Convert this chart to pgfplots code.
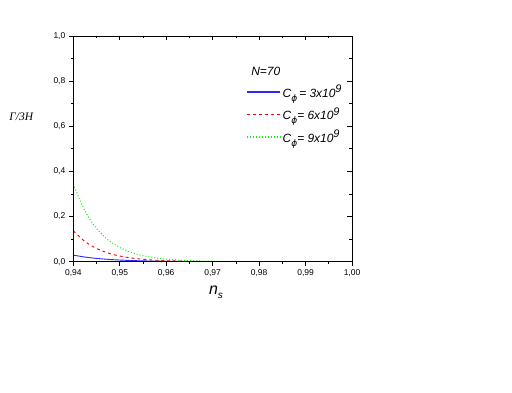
\documentclass[border=0pt]{standalone}
\usepackage{pgfplots}
\pgfplotsset{compat=1.18}
\usepackage{fontspec}
\setmainfont{Liberation Sans}
\newfontfamily\serifit{Liberation Serif}
\newfontfamily\dejavu{DejaVu Sans}

\newcommand{\expnine}{\raisebox{0.75ex}{\fontsize{11}{12}\selectfont 9}}
\newcommand{\Cphi}{C\raisebox{-0.6ex}{\dejavu\fontsize{9}{10}\selectfont ϕ}}

\begin{document}
\begin{tikzpicture}
\useasboundingbox (-73.3bp,-131.3bp) rectangle (438.7bp,261.7bp);
\pgfplotsset{
    frame/.style={
        scale only axis,
        width=278.7bp,
        height=225.7bp,
        xmin=0.94, xmax=1.00,
        ymin=0, ymax=1.0,
        xtick={0.94,0.95,...,1.00},
        ytick={0,0.2,...,1.0},
        minor x tick num=1,
        minor y tick num=1,
        major tick length=4.5bp,
        minor tick length=2.5bp,
        axis line style={line width=0.8bp},
        every tick/.style={black, line width=0.7bp},
    },
}
\begin{axis}[
    frame,
    tick align=outside,
    xtick pos=bottom,
    ytick pos=left,
    /pgf/number format/assume math mode=true,
    /pgf/number format/use comma,
    x tick label style={font=\fontsize{8.5}{10}\selectfont,
        /pgf/number format/.cd, fixed, fixed zerofill, precision=2},
    y tick label style={font=\fontsize{8.5}{10}\selectfont,
        /pgf/number format/.cd, fixed, fixed zerofill, precision=1},
    xlabel={\fontsize{16}{18}\selectfont\itshape n\raisebox{-0.45ex}{\fontsize{10}{12}\selectfont s}},
    xlabel style={at={(axis description cs:0.512,-0.134)}, anchor=center},
    ylabel={\serifit\itshape\fontsize{11.5}{13}\selectfont Γ/3H},
    ylabel style={at={(axis description cs:-0.187,0.641)}, anchor=center, rotate=-90},
    legend style={draw=none, fill=none, at={(axis description cs:0.619,0.786)},
        anchor=north west, font=\itshape\fontsize{12}{13}\selectfont,
        row sep=8bp, inner sep=0pt,
        nodes={inner sep=0.4pt}},
    legend cell align=left,
    legend image code/.code={\draw[#1, line width=1.6bp] (0bp,0bp) -- (33bp,0bp);
        \path (35bp,0bp);},
]
\addplot[color={rgb,255:red,40;green,40;blue,255}, line width=0.9bp, smooth] coordinates {
    (0.9400,0.0290) (0.9425,0.0206) (0.9450,0.0146) (0.9475,0.0104)
    (0.9500,0.0074) (0.9525,0.0052) (0.9550,0.0037) (0.9575,0.0026)
    (0.9600,0.0019) (0.9625,0.0013) (0.9650,0.0009) (0.9700,0.0004)
    (0.9800,0.0001) (0.9900,0.0000) (1.0000,0.0000)
};
\addlegendentry{\Cphi\,= 3x10\expnine}
\addplot[red, line width=0.9bp, dashed, smooth] coordinates {
    (0.9400,0.1370) (0.9425,0.0896) (0.9450,0.0586) (0.9475,0.0383)
    (0.9500,0.0251) (0.9525,0.0164) (0.9550,0.0107) (0.9575,0.0070)
    (0.9600,0.0046) (0.9625,0.0030) (0.9650,0.0020) (0.9700,0.0008)
    (0.9800,0.0001) (0.9900,0.0000) (1.0000,0.0000)
};
\addlegendentry{\Cphi= 6x10\expnine}
\addplot[green, line width=1bp, dotted, smooth] coordinates {
    (0.9400,0.3440) (0.9425,0.2250) (0.9450,0.1470) (0.9475,0.0960)
    (0.9500,0.0630) (0.9525,0.0410) (0.9550,0.0270) (0.9575,0.0180)
    (0.9600,0.0116) (0.9625,0.0076) (0.9650,0.0050) (0.9700,0.0021)
    (0.9800,0.0002) (0.9900,0.0000) (1.0000,0.0000)
};
\addlegendentry{\Cphi= 9x10\expnine}
\node[anchor=west, font=\itshape\fontsize{12}{13}\selectfont]
    at (axis description cs:0.626,0.845) {N=70};
\end{axis}
\begin{axis}[
    frame,
    tick align=inside,
    xtick pos=top,
    ytick pos=right,
    xticklabels={}, yticklabels={},
]
\end{axis}
\end{tikzpicture}
\end{document}
